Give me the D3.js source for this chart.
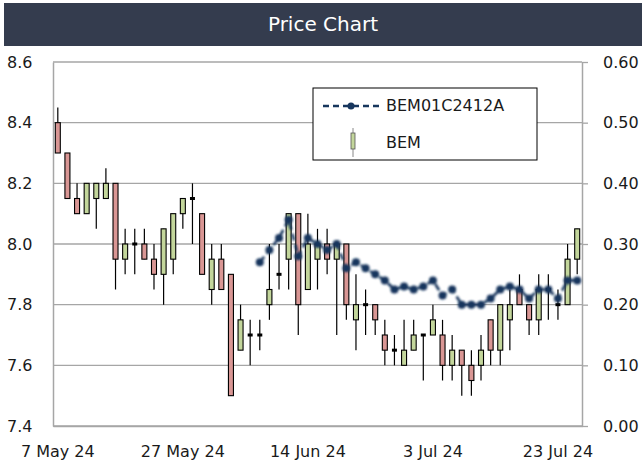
<!DOCTYPE html>
<html>
<head>
<meta charset="utf-8">
<script src="https://cdnjs.cloudflare.com/ajax/libs/d3/7.8.5/d3.min.js"></script>
<style>
  body { margin: 0; background: #fff; }
  text { font-family: "DejaVu Sans", sans-serif; }
</style>
</head>
<body>
<script>
// trading days shown on the x axis
var dates = [
  "2024-05-07","2024-05-08","2024-05-09","2024-05-10","2024-05-13","2024-05-14","2024-05-15",
  "2024-05-16","2024-05-17","2024-05-20","2024-05-21","2024-05-23","2024-05-24","2024-05-27",
  "2024-05-28","2024-05-29","2024-05-30","2024-05-31","2024-06-04","2024-06-05","2024-06-06",
  "2024-06-07","2024-06-10","2024-06-11","2024-06-12","2024-06-13","2024-06-14","2024-06-17",
  "2024-06-18","2024-06-19","2024-06-20","2024-06-21","2024-06-24","2024-06-25","2024-06-26",
  "2024-06-27","2024-06-28","2024-07-01","2024-07-02","2024-07-03","2024-07-04","2024-07-05",
  "2024-07-08","2024-07-09","2024-07-10","2024-07-11","2024-07-12","2024-07-15","2024-07-16",
  "2024-07-17","2024-07-18","2024-07-19","2024-07-23","2024-07-24","2024-07-25"
];

// BEM candles
var open = [8.40,8.30,8.15,8.10,8.15,8.15,8.20,7.95,8.00,8.00,7.95,7.90,7.95,8.10,8.15,8.10,7.85,7.95,7.90,7.65,
            7.70,7.70,7.80,7.90,7.95,8.10,7.85,7.95,8.00,7.95,8.00,7.75,7.80,7.80,7.70,7.65,7.60,7.65,7.70,7.70,
            7.70,7.60,7.65,7.60,7.60,7.75,7.65,7.75,7.85,7.80,7.75,7.85,7.80,7.80,7.95];
var high = [8.45,8.30,8.20,8.20,8.20,8.25,8.20,8.05,8.05,8.05,8.00,8.05,8.10,8.15,8.20,8.10,8.00,8.00,7.90,7.80,
            7.75,7.75,8.00,8.00,8.10,8.10,8.10,8.05,8.05,8.00,8.00,7.90,7.85,7.80,7.75,7.70,7.75,7.75,7.70,7.80,
            7.75,7.70,7.65,7.65,7.70,7.75,7.80,7.85,7.90,7.80,7.90,7.90,7.85,8.00,8.05];
var low = [8.30,8.15,8.10,8.10,8.05,8.15,7.85,7.90,7.90,7.95,7.85,7.80,7.90,8.05,8.00,7.90,7.80,7.85,7.50,7.65,
           7.60,7.65,7.75,7.85,7.85,7.70,7.85,7.85,7.90,7.70,7.75,7.65,7.70,7.70,7.60,7.60,7.60,7.65,7.55,7.70,
           7.55,7.55,7.50,7.50,7.55,7.60,7.60,7.65,7.80,7.70,7.70,7.75,7.75,7.80,7.90];
var close = [8.30,8.15,8.10,8.20,8.20,8.20,7.95,8.00,8.00,7.95,7.90,8.05,8.10,8.15,8.15,7.90,7.95,7.85,7.50,7.75,
             7.70,7.70,7.85,7.90,8.10,7.80,8.00,8.00,7.95,8.00,7.80,7.80,7.80,7.75,7.65,7.65,7.65,7.70,7.70,7.75,
             7.60,7.65,7.60,7.55,7.65,7.65,7.80,7.80,7.80,7.75,7.85,7.85,7.80,7.95,8.05];

// BEM01C2412A (right axis)
var warrant = [null,null,null,null,null,null,null,null,null,null,null,null,null,null,null,null,null,null,null,null,
               null,0.27,0.29,0.31,0.34,0.28,0.31,0.30,0.29,0.30,0.26,0.27,0.26,0.25,0.24,0.225,0.23,0.225,0.23,0.24,
               0.215,0.225,0.20,0.20,0.20,0.21,0.225,0.23,0.225,0.21,0.225,0.225,0.21,0.24,0.24];

var leftTicks = [7.4, 7.6, 7.8, 8.0, 8.2, 8.4, 8.6];
var rightTicks = [0.00, 0.10, 0.20, 0.30, 0.40, 0.50, 0.60];
var labelEvery = 13;

var W = 642, H = 461;
var plot = {left: 53, right: 582, top: 62, bottom: 426};

var svg = d3.select("body").append("svg")
  .attr("width", W)
  .attr("height", H);

var defs = svg.append("defs");
defs.append("filter").attr("id", "soft")
  .append("feGaussianBlur").attr("stdDeviation", 0.9);

// title bar
svg.append("rect")
  .attr("x", 4).attr("y", 3)
  .attr("width", W - 4).attr("height", 43)
  .attr("fill", "#343c4e");
svg.append("text")
  .attr("x", W / 2 + 2).attr("y", 25)
  .attr("text-anchor", "middle")
  .attr("dominant-baseline", "middle")
  .attr("fill", "#fff")
  .style("font-size", "20px")
  .text("Price Chart");

var idx = d3.range(dates.length);
var x = d3.scaleBand().domain(idx).range([plot.left, plot.right]);
var yL = d3.scaleLinear().domain([7.4, 8.6]).range([plot.bottom, plot.top]);
var yR = d3.scaleLinear().domain([0, 0.6]).range([plot.bottom, plot.top]);
var cx = function(i) { return x(i) + x.bandwidth() / 2; };

//gridlines
svg.append("g")
  .selectAll("line")
  .data(leftTicks)
  .enter().append("line")
  .attr("x1", plot.left).attr("x2", plot.right)
  .attr("y1", function(d) { return yL(d); })
  .attr("y2", function(d) { return yL(d); })
  .attr("stroke", "#a6a6a6")
  .attr("stroke-width", 1.3);

//left axis
var leftAxis = svg.append("g")
  .attr("transform", "translate(" + plot.left + ",0)")
  .call(d3.axisLeft(yL).tickValues(leftTicks).tickFormat(d3.format(".1f")).tickSize(0));
leftAxis.select(".domain").attr("stroke", "#a6a6a6").attr("stroke-width", 1.5);
leftAxis.selectAll("text")
  .attr("x", -46).attr("text-anchor", "start")
  .attr("fill", "#1a1a1a").style("font-size", "16px")
  .style("font-family", "DejaVu Sans");

//right axis
var rightAxis = svg.append("g")
  .attr("transform", "translate(" + plot.right + ",0)")
  .call(d3.axisRight(yR).tickValues(rightTicks).tickFormat(d3.format(".2f")).tickSize(6).tickSizeOuter(0));
rightAxis.select(".domain").attr("stroke", "#a6a6a6").attr("stroke-width", 1.5);
rightAxis.selectAll("line").attr("stroke", "#a6a6a6").attr("stroke-width", 1.3);
rightAxis.selectAll("text")
  .attr("x", 21)
  .attr("fill", "#1a1a1a").style("font-size", "16px")
  .style("font-family", "DejaVu Sans");

//bottom axis
var fmt = d3.timeFormat("%-d %b %y");
var parse = d3.timeParse("%Y-%m-%d");
var bottomAxis = svg.append("g")
  .attr("transform", "translate(0," + plot.bottom + ")")
  .call(d3.axisBottom(x)
    .tickValues(idx.filter(function(i) { return i % labelEvery === 0; }))
    .tickFormat(function(i) { return fmt(parse(dates[i])); })
    .tickSize(0).tickPadding(20));
bottomAxis.select(".domain").attr("stroke", "#a6a6a6").attr("stroke-width", 1.5);
bottomAxis.selectAll("text")
  .attr("fill", "#1a1a1a").style("font-size", "16px")
  .style("font-family", "DejaVu Sans");

//candles
var candles = svg.append("g").selectAll("g")
  .data(idx)
  .enter().append("g");

candles.append("line")
  .attr("x1", function(i) { return cx(i); })
  .attr("x2", function(i) { return cx(i); })
  .attr("y1", function(i) { return yL(high[i]); })
  .attr("y2", function(i) { return yL(low[i]); })
  .attr("stroke", "#000")
  .attr("stroke-width", 1.2);

var bw = 5;
candles.filter(function(i) { return open[i] !== close[i]; })
  .append("rect")
  .attr("x", function(i) { return cx(i) - bw / 2; })
  .attr("y", function(i) { return yL(Math.max(open[i], close[i])); })
  .attr("width", bw)
  .attr("height", function(i) { return Math.abs(yL(open[i]) - yL(close[i])); })
  .attr("fill", function(i) { return close[i] > open[i] ? "#c3d69b" : "#d99694"; })
  .attr("stroke", "#000")
  .attr("stroke-width", 1.1);

candles.filter(function(i) { return open[i] === close[i]; })
  .append("rect")
  .attr("x", function(i) { return cx(i) - 2.5; })
  .attr("y", function(i) { return yL(open[i]) - 1.5; })
  .attr("width", 5)
  .attr("height", 3)
  .attr("fill", "#000");

//warrant line
var lineData = idx.filter(function(i) { return warrant[i] !== null; });
var line = d3.line()
  .x(function(i) { return cx(i); })
  .y(function(i) { return yR(warrant[i]); });

var wg = svg.append("g").attr("filter", "url(#soft)");
wg.append("path")
  .datum(lineData)
  .attr("d", line)
  .attr("fill", "none")
  .attr("stroke", "#17365d")
  .attr("stroke-width", 2.6)
  .attr("stroke-dasharray", "7,4");
wg.selectAll("circle")
  .data(lineData)
  .enter().append("circle")
  .attr("cx", function(i) { return cx(i); })
  .attr("cy", function(i) { return yR(warrant[i]); })
  .attr("r", 4)
  .attr("fill", "#17365d");

//legend
var lg = svg.append("g").attr("transform", "translate(313,88)");
lg.append("rect")
  .attr("width", 224).attr("height", 72)
  .attr("fill", "#fff")
  .attr("stroke", "#000")
  .attr("stroke-width", 1);
lg.append("line")
  .attr("x1", 10).attr("x2", 66).attr("y1", 18).attr("y2", 18)
  .attr("stroke", "#17365d").attr("stroke-width", 2.6)
  .attr("stroke-dasharray", "6,4");
lg.append("circle")
  .attr("cx", 38).attr("cy", 18).attr("r", 3.5)
  .attr("fill", "#17365d");
lg.append("text")
  .attr("x", 73).attr("y", 18)
  .attr("dominant-baseline", "middle")
  .style("font-size", "16px")
  .attr("fill", "#1a1a1a")
  .text("BEM01C2412A");
lg.append("line")
  .attr("x1", 40).attr("x2", 40).attr("y1", 40).attr("y2", 69)
  .attr("stroke", "#888").attr("stroke-width", 1);
lg.append("rect")
  .attr("x", 38).attr("y", 45).attr("width", 4).attr("height", 16)
  .attr("fill", "#c3d69b").attr("stroke", "#555").attr("stroke-width", 0.8);
lg.append("text")
  .attr("x", 73).attr("y", 55)
  .attr("dominant-baseline", "middle")
  .style("font-size", "16px")
  .attr("fill", "#1a1a1a")
  .text("BEM");
</script>
</body>
</html>
